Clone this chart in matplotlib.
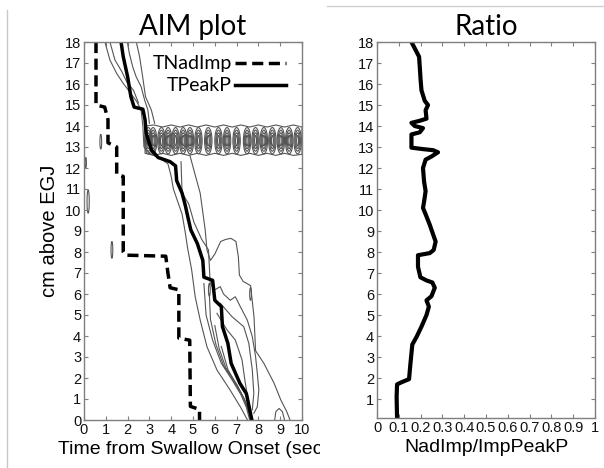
"""AIM plot with TNadImp / TPeakP traces and the NadImp/ImpPeakP ratio."""

import matplotlib
matplotlib.use('Agg')
import matplotlib.pyplot as plt
from matplotlib.patches import Ellipse, Polygon, Rectangle
from matplotlib.lines import Line2D

# time of nadir impedance (s) against position (cm above EGJ)
nad_t = [0.55, 0.55, 0.95, 1.1, 1.1, 1.5, 1.5, 1.8, 1.8, 1.9, 3.75, 3.85, 3.95,
         4.35, 4.35, 4.85, 4.88, 5.3, 5.3]
nad_z = [18.0, 15.0, 14.9, 14.3, 13.2, 13.0, 11.7, 11.6, 8.0, 7.85, 7.8, 7.0, 6.3,
         6.2, 3.9, 3.8, 0.65, 0.5, 0.0]

# time of peak pressure
peak_t = [1.7, 1.8, 2.0, 2.15, 2.3, 2.7, 2.8, 2.85, 3.1, 3.4, 3.95, 4.2, 4.25,
          4.5, 4.65, 4.8, 4.9, 5.2, 5.45, 5.5, 5.9, 6.0, 6.3, 6.35, 6.6, 6.75,
          7.15, 7.45, 7.6, 7.7]
peak_z = [18.0, 17.3, 16.35, 15.4, 14.9, 14.8, 14.3, 13.65, 12.85, 12.5, 12.3,
          12.1, 11.4, 10.8, 10.2, 9.5, 9.05, 8.4, 7.6, 6.8, 6.65, 5.7, 5.4, 4.45,
          3.65, 2.7, 1.75, 1.25, 0.5, 0.0]

# isobaric contour lines
left_outer_t = [0.96, 1.19, 1.5, 1.8, 2.04, 2.42, 2.62, 2.7, 2.75, 3.0, 3.5, 3.85,
                4.0, 4.1, 4.3, 4.5, 4.65, 4.75, 4.94, 5.1, 5.33, 5.64, 6.1, 6.7,
                7.17, 7.5]
left_outer_z = [18.0, 17.14, 16.5, 16.03, 15.7, 15.16, 14.76, 14.0, 13.0, 12.7,
                12.45, 12.2, 11.6, 11.0, 10.4, 9.8, 8.9, 8.2, 7.14, 5.87, 4.76,
                3.49, 2.38, 1.43, 0.63, 0.0]
left_inner_t = [1.19, 1.42, 1.73, 1.96, 2.27, 2.5]
left_inner_z = [18.0, 17.14, 16.6, 16.1, 15.7, 15.1]
top_a_t = [2.0, 2.08, 2.24, 2.39, 2.62, 2.78, 2.93, 3.0]
top_a_z = [17.93, 17.46, 16.8, 16.35, 15.87, 15.24, 14.76, 14.13]
top_b_t = [2.41, 2.55, 2.69, 2.82, 3.09, 3.24]
top_b_z = [17.95, 17.3, 16.35, 15.4, 14.76, 14.13]
right_outer_t = [4.86, 5.04, 5.33, 5.56, 5.64, 5.8, 6.0, 6.27, 6.5, 6.74, 6.97,
                 7.08, 7.13, 7.3, 7.64, 7.8, 7.87, 8.25, 8.72, 9.03, 9.3, 9.45]
right_outer_z = [12.6, 11.9, 10.8, 9.05, 8.1, 7.6, 7.9, 8.5, 8.6, 8.65, 8.5,
                 7.78, 6.9, 6.6, 6.4, 4.9, 3.3, 2.7, 1.75, 0.95, 0.4, 0.0]
right_mid_t = [4.45, 4.5, 4.8, 5.05, 5.4, 5.71, 5.79, 6.0, 6.25, 6.4, 6.71, 6.94,
               7.17, 7.49, 7.72, 7.87, 7.95, 8.02, 7.95, 7.79]
right_mid_z = [12.3, 10.8, 10.3, 9.4, 8.6, 8.1, 6.5, 6.2, 6.35, 6.0, 5.7, 5.87,
               5.4, 4.76, 3.97, 3.02, 2.22, 1.43, 0.63, 0.32]
right_in_a_t = [6.25, 6.79, 7.33, 7.56, 7.72, 7.79, 7.72]
right_in_a_z = [5.56, 4.92, 4.44, 3.65, 2.38, 1.27, 0.48]
right_in_b_t = [6.1, 6.56, 6.94, 7.25, 7.4, 7.56, 7.64]
right_in_b_z = [5.08, 4.29, 3.81, 2.86, 1.75, 0.8, 0.16]
bunch_a_t = [5.5, 5.6, 5.9, 6.3, 6.8, 7.2, 7.45, 7.6]
bunch_a_z = [6.5, 5.0, 3.8, 2.7, 1.9, 1.2, 0.6, 0.0]
bunch_b_t = [5.75, 5.8, 6.05, 6.4, 6.9, 7.3, 7.5, 7.65]
bunch_b_z = [6.0, 4.8, 3.6, 2.6, 1.8, 1.1, 0.5, 0.0]
bunch_c_t = [6.0, 6.2, 6.5, 7.0, 7.35, 7.55, 7.7]
bunch_c_z = [4.5, 3.4, 2.5, 1.7, 1.0, 0.4, 0.0]
bunch_d_t = [6.3, 6.6, 7.05, 7.4, 7.6, 7.75]
bunch_d_z = [3.5, 2.4, 1.6, 0.9, 0.3, 0.0]
hump_t = [8.75, 8.8, 8.95, 9.1, 9.2]
hump_z = [0.0, 0.4, 0.55, 0.4, 0.0]

contour_lines = [
    (left_outer_t, left_outer_z), (left_inner_t, left_inner_z),
    (top_a_t, top_a_z), (top_b_t, top_b_z),
    (right_outer_t, right_outer_z), (right_mid_t, right_mid_z),
    (right_in_a_t, right_in_a_z), (right_in_b_t, right_in_b_z),
    (bunch_a_t, bunch_a_z), (bunch_b_t, bunch_b_z),
    (bunch_c_t, bunch_c_z), (bunch_d_t, bunch_d_z), (hump_t, hump_z),
]

# oscillating high-pressure band around 13 cm
band_top_t = [2.8, 3.2, 3.6, 4.0, 4.4, 4.8, 5.2, 5.6, 6.0, 6.4, 6.8, 7.2, 7.6,
              8.0, 8.4, 8.8, 9.2, 9.6, 10.0]
band_top_z = [14.0, 14.05, 13.95, 14.05, 13.95, 14.05, 13.95, 14.05, 13.95,
              14.05, 13.95, 14.05, 13.95, 14.05, 13.95, 14.05, 13.95, 14.05, 13.95]
band_bot_t = [10.0, 9.6, 9.2, 8.8, 8.4, 8.0, 7.6, 7.2, 6.8, 6.4, 6.0, 5.6, 5.2,
              4.8, 4.4, 4.0, 3.6, 3.2, 2.8]
band_bot_z = [12.65, 12.6, 12.7, 12.6, 12.7, 12.6, 12.7, 12.6, 12.7, 12.6, 12.7,
              12.6, 12.7, 12.6, 12.7, 12.6, 12.7, 12.6, 12.7]
ring_t = [2.95, 3.17, 3.55, 3.86, 4.2, 4.55, 4.86, 5.25, 5.7, 6.17, 6.56, 7.0,
          7.48, 7.87, 8.25, 8.64, 9.03, 9.41, 9.8]
ring_z = 13.3

# isolated small islands (t, z, width, height)
islands = [(0.08, 12.25, 0.06, 0.5), (0.19, 10.4, 0.1, 1.1), (1.28, 8.1, 0.08, 0.8),
           (0.77, 13.25, 0.08, 0.7), (5.75, 6.2, 0.08, 0.6), (7.64, 6.0, 0.08, 0.6)]

# NadImp/ImpPeakP ratio against position
ratio_x = [0.158, 0.173, 0.193, 0.196, 0.2, 0.204, 0.219, 0.234, 0.223, 0.227,
           0.196, 0.158, 0.173, 0.211, 0.196, 0.158, 0.158, 0.211, 0.257, 0.28,
           0.25, 0.223, 0.211, 0.216, 0.223, 0.216, 0.211, 0.223, 0.242, 0.257,
           0.269, 0.26, 0.242, 0.188, 0.188, 0.199, 0.227, 0.254, 0.265, 0.25,
           0.227, 0.238, 0.227, 0.204, 0.181, 0.162, 0.153, 0.147, 0.112, 0.092,
           0.09, 0.092]
ratio_z = [18.0, 17.7, 17.3, 16.85, 16.2, 15.7, 15.2, 15.0, 14.75, 14.35, 14.25,
           14.15, 14.0, 13.9, 13.7, 13.6, 12.97, 12.9, 12.85, 12.75, 12.55, 12.4,
           12.0, 11.35, 10.9, 10.4, 10.1, 9.8, 9.3, 8.85, 8.5, 8.1, 7.95, 7.85,
           7.3, 6.8, 6.65, 6.55, 6.3, 5.9, 5.7, 5.4, 5.0, 4.45, 3.95, 3.6, 2.65,
           1.95, 1.8, 1.7, 1.1, 0.1]

W, H = 604, 468
tick_font = {'family': 'Liberation Sans', 'size': 10.5}
label_font = {'family': 'Liberation Sans', 'size': 14}
title_font = {'family': 'Lato', 'size': 20}
frame_grey = '#7f7f7f'
contour_grey = '#555555'


def style_axes(ax, yticks):
    for side in ax.spines.values():
        side.set_color(frame_grey)
        side.set_linewidth(1.0)
    ax.tick_params(direction='in', top=True, right=True, length=3,
                   color=frame_grey, labelcolor='#111111', pad=2)
    ax.set_yticks(yticks)
    for lab in ax.get_xticklabels() + ax.get_yticklabels():
        lab.set_fontfamily(tick_font['family'])
        lab.set_fontsize(tick_font['size'])


fig = plt.figure(figsize=(W / 100, H / 100), dpi=100)

# ---- AIM plot ----
ax = fig.add_axes([84 / W, 1 - 420 / H, 218 / W, 378 / H])
ax.set_zorder(0)
for t, z in contour_lines:
    ax.plot(t, z, color=contour_grey, lw=0.8)

env = list(zip(band_top_t, band_top_z)) + list(zip(band_bot_t, band_bot_z))
ax.add_patch(Polygon(env, closed=True, fill=False, ec=contour_grey, lw=0.8))
for tc in ring_t:
    for w, h in [(0.34, 1.25), (0.25, 1.0), (0.17, 0.75), (0.09, 0.5)]:
        ax.add_patch(Ellipse((tc, ring_z), w, h, fill=False, ec=contour_grey, lw=0.8))
for t, z, w, h in islands:
    ax.add_patch(Ellipse((t, z), w, h, fill=False, ec=contour_grey, lw=0.8))

nad_line, = ax.plot(nad_t, nad_z, color='black', lw=2.5, ls=(0, (3.2, 1.6)))
peak_line, = ax.plot(peak_t, peak_z, color='black', lw=2.5)

ax.set_xlim(0, 10)
ax.set_ylim(0, 18)
ax.set_xticks(range(0, 11))
style_axes(ax, range(0, 19))
ax.set_xlabel('Time from Swallow Onset (sec)', fontdict=label_font, labelpad=3)
ax.set_ylabel('cm above EGJ', fontdict={'family': 'Liberation Sans', 'size': 14.5},
              labelpad=4)
ax.set_title('AIM plot', fontdict=title_font, pad=5)

ax.legend([nad_line, peak_line], ['TNadImp', 'TPeakP'], loc='upper right',
          bbox_to_anchor=(0.96, 0.985), frameon=False, markerfirst=False,
          handlelength=2.6, handletextpad=0.15, labelspacing=0.25,
          borderaxespad=0, prop={'family': 'Lato', 'size': 14})

# second picture pasted on top: white background hides the overflowing x label
fig.add_artist(Rectangle((320 / W, 0), 1 - 320 / W, 1, transform=fig.transFigure,
                         fc='white', ec='none', zorder=1))

# slide borders
fig.add_artist(Line2D([7 / W, 7 / W], [0, 1 - 10 / H], color='#c8c8c8', lw=1,
                      zorder=3))
fig.add_artist(Line2D([327 / W, 1], [1 - 6 / H, 1 - 6 / H], color='#d0d0d0', lw=1,
                      zorder=3))

# ---- Ratio ----
ax2 = fig.add_axes([377 / W, 1 - 418 / H, 218 / W, 376 / H])
ax2.set_zorder(2)
ax2.patch.set_alpha(0)
ax2.plot(ratio_x, ratio_z, color='black', lw=3)
ax2.set_xlim(0, 1)
ax2.set_ylim(0.1, 18)
ax2.set_xticks([i / 10 for i in range(11)])
ax2.set_xticklabels(['0', '0.1', '0.2', '0.3', '0.4', '0.5', '0.6', '0.7', '0.8',
                     '0.9', '1'])
style_axes(ax2, range(1, 19))
ax2.set_xlabel('NadImp/ImpPeakP', fontdict=label_font, labelpad=3)
ax2.set_title('Ratio', fontdict=title_font, pad=5)

fig.savefig('out.png', dpi=100)
